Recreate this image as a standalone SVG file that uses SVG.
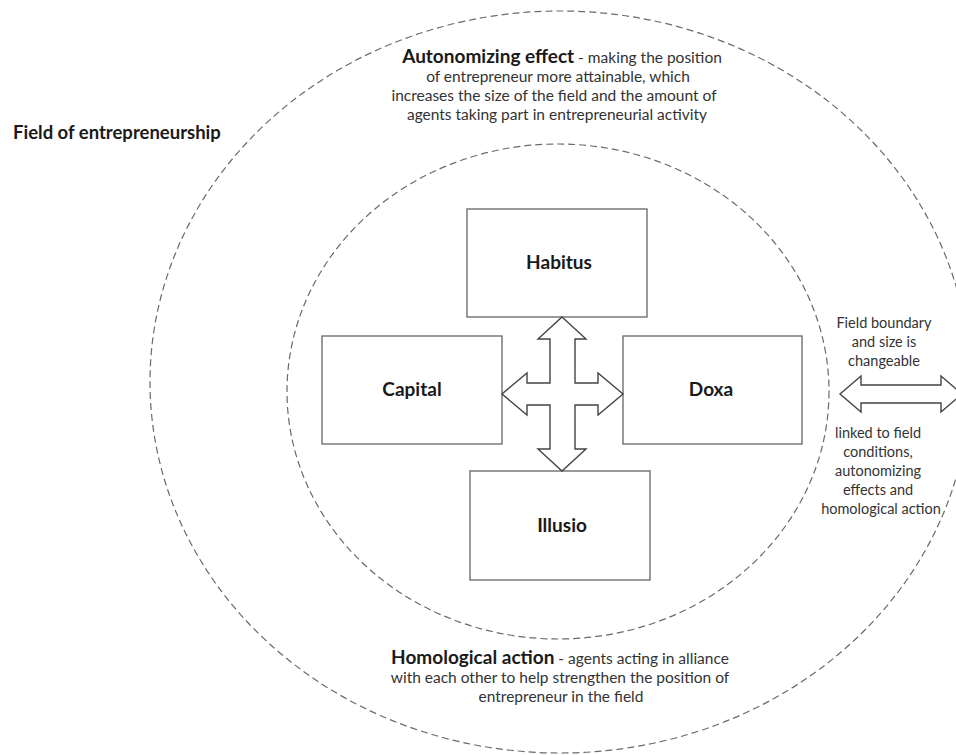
<svg xmlns="http://www.w3.org/2000/svg" width="956" height="755" viewBox="0 0 956 755">
<style>
.bg{fill:#ffffff}
.ring{fill:none;stroke:#6a6a6a;stroke-width:1.2;stroke-dasharray:7 4}
.box{fill:#ffffff;stroke:#6f6f6f;stroke-width:1.4}
.arrow{fill:#ffffff;stroke:#444444;stroke-width:1.4;stroke-linejoin:miter}
.lbl{font-family:Lato,"Liberation Sans",sans-serif;font-weight:bold;font-size:19px;fill:#1a1a1a;text-anchor:middle}
.t{font-family:Lato,"Liberation Sans",sans-serif;font-size:15.5px;fill:#333333;text-anchor:middle}
.s{font-family:Lato,"Liberation Sans",sans-serif;font-size:14.5px;fill:#333333;text-anchor:middle}
.b{font-weight:bold;font-size:19px;fill:#1a1a1a}
.title{font-family:Lato,"Liberation Sans",sans-serif;font-weight:bold;font-size:18.5px;fill:#1a1a1a}
</style>
<rect class="bg" x="0" y="0" width="956" height="755"/>
<g id="field">
<ellipse class="ring" cx="560" cy="382" rx="410" ry="371"/>
<text class="title" x="13" y="139">Field of entrepreneurship</text>
</g>
<g id="inner-field">
<ellipse class="ring" cx="558" cy="391.5" rx="271" ry="247.5"/>
</g>
<g id="autonomizing">
<text class="t" x="562" y="63"><tspan class="b">Autonomizing effect</tspan> - making the position</text>
<text class="t" x="558" y="82">of entrepreneur more attainable, which</text>
<text class="t" x="554" y="101">increases the size of the field and the amount of</text>
<text class="t" x="557" y="120">agents taking part in entrepreneurial activity</text>
</g>
<g id="homological">
<text class="t" x="560" y="664"><tspan class="b">Homological action</tspan> - agents acting in alliance</text>
<text class="t" x="560" y="683">with each other to help strengthen the position of</text>
<text class="t" x="561" y="702">entrepreneur in the field</text>
</g>
<g id="boundary-note">
<text class="s" x="884" y="328">Field boundary</text>
<text class="s" x="884" y="347">and size is</text>
<text class="s" x="884" y="366">changeable</text>
</g>
<g id="linked-note">
<text class="s" x="878" y="438">linked to field</text>
<text class="s" x="878" y="457">conditions,</text>
<text class="s" x="878" y="476">autonomizing</text>
<text class="s" x="878" y="495">effects and</text>
<text class="s" x="881" y="514">homological action</text>
</g>
<g id="habitus">
<rect class="box" x="467" y="209" width="180" height="108"/>
<text class="lbl" x="559" y="269">Habitus</text>
</g>
<g id="capital">
<rect class="box" x="322" y="336" width="180" height="108"/>
<text class="lbl" x="412" y="396">Capital</text>
</g>
<g id="doxa">
<rect class="box" x="623" y="336" width="179" height="108"/>
<text class="lbl" x="711" y="396">Doxa</text>
</g>
<g id="illusio">
<rect class="box" x="470" y="471" width="180" height="109"/>
<text class="lbl" x="562" y="532">Illusio</text>
</g>
<g id="connectors">
<polygon class="arrow" points="562,317 586,339 575,339 575,383 598,383 598,373 623,394 598,415 598,405 575,405 575,449 586,449 562,471 538,449 550,449 550,405 527,405 527,415 502,394 527,373 527,383 550,383 550,339 538,339"/>
<polygon class="arrow" points="840,394 861,376 861,385 941,385 941,376 962,394 941,412 941,403 861,403 861,412"/>
</g>
</svg>
